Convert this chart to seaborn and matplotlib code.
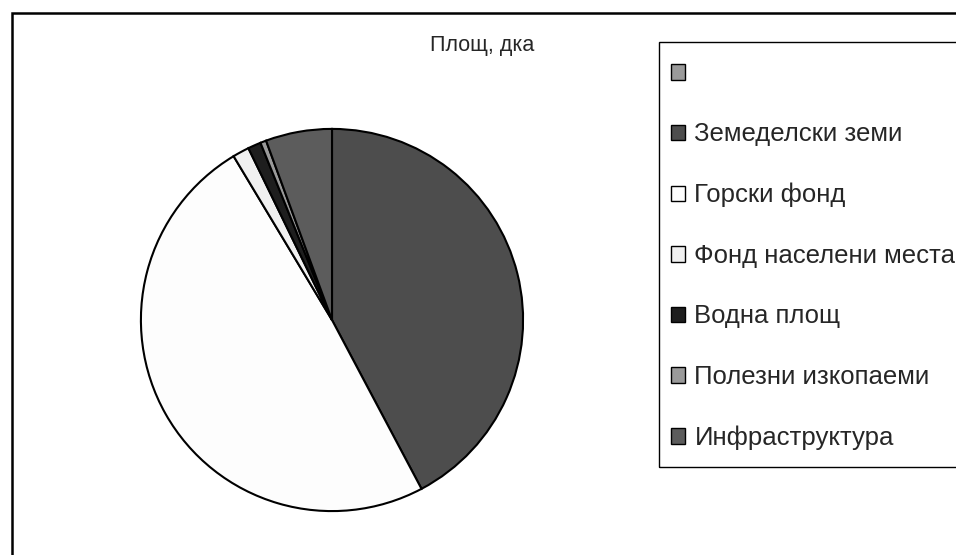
import matplotlib
matplotlib.use("Agg")
import matplotlib.pyplot as plt
import seaborn as sns
from matplotlib.patches import Patch, Rectangle

# Data (shares, %)
categories = ["Земеделски земи", "Горски фонд", "Фонд населени места",
              "Водна площ", "Полезни изкопаеми", "Инфраструктура"]
values = [42.2, 49.1, 1.4, 1.1, 0.5, 5.6]
colors = ["#4d4d4d", "#fdfdfd", "#f0f0f0", "#1e1e1e", "#9a9a9a", "#5c5c5c"]
legend_labels = [""] + categories
legend_colors = ["#9a9a9a"] + colors
title = "Площ, дка"

sns.set_theme(style="white")
plt.rcParams["font.family"] = ["Liberation Sans", "DejaVu Sans"]

W, H = 956, 555
fig = plt.figure(figsize=(W / 100, H / 100), dpi=100)
fig.patch.set_facecolor("white")

cx, cy, r = 332, 320, 193
ax = fig.add_axes([(cx - r) / W, (H - cy - r) / H, 2 * r / W, 2 * r / H])
ax.pie(values, colors=colors, startangle=90, counterclock=False,
       wedgeprops=dict(edgecolor="black", linewidth=1.5))
ax.set_xlim(-1.01, 1.01)
ax.set_ylim(-1.01, 1.01)
ax.set_aspect("equal")
ax.axis("off")

# outer chart frame (extends past right/bottom edge)
fig.patches.append(Rectangle((12 / W, -0.2), 1.5, 1.2 - 13 / H,
                             transform=fig.transFigure, fill=False,
                             edgecolor="black", linewidth=1.8))

fig.text(482 / W, 1 - 45 / H, title, ha="center", va="center", fontsize=15.5)

# legend frame (extends past right edge)
fig.patches.append(Rectangle((659 / W, 1 - 466.5 / H), 1.0, (466.5 - 41.5) / H,
                             transform=fig.transFigure, fill=False,
                             edgecolor="black", linewidth=1.0))

handles = [Patch(facecolor=c, edgecolor="black", linewidth=1.0) for c in legend_colors]
leg = fig.legend(handles, legend_labels, loc="upper left",
                 bbox_to_anchor=(670.5 / W, 1 - 62 / H),
                 frameon=False, fontsize=18.5, handlelength=0.55, handleheight=0.55,
                 handletextpad=0.38, labelspacing=1.42, borderpad=0.0,
                 borderaxespad=0.0)

fig.savefig("out.png", dpi=100, facecolor="white")
